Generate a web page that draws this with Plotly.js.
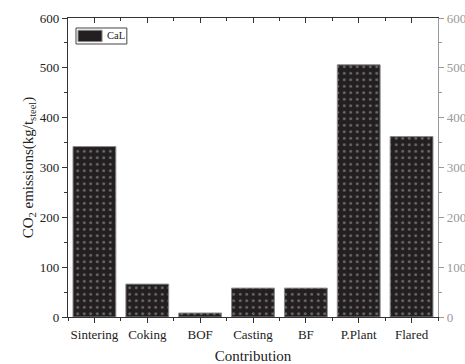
<!DOCTYPE html>
<html><head><meta charset="utf-8">
<script src="https://cdn.plot.ly/plotly-3.0.1.min.js"></script>
<style>html,body{margin:0;padding:0;background:#fff;}#c{width:465px;height:364px;}</style>
</head><body><div id="c"></div>
<script>
const categories = ["Sintering","Coking","BOF","Casting","BF","P.Plant","Flared"];
const emissions = [342, 66, 8, 58, 58, 506, 362];
const seriesName = "CaL";
const yTicks = [0,100,200,300,400,500,600];

const idx = categories.map((c,i)=>i);
const fam = "Liberation Serif, Times New Roman, serif";
const font = {family:fam, color:"#222", size:13};

const bar = {
  type:"bar", x: idx, y: emissions, name: seriesName, width: 0.81,
  marker:{color:"#231f20", line:{color:"#8a8a8a", width:1},
    pattern:{shape:".", fgcolor:"#6a6a6a", bgcolor:"#231f20", size:6.5, solidity:0.16}},
  showlegend:false, hoverinfo:"skip"
};
const ghostRight = {type:"scatter", mode:"markers", x: idx, y: emissions, yaxis:"y2",
  marker:{opacity:0}, showlegend:false, hoverinfo:"skip"};
const ghostTop = {type:"scatter", mode:"markers", x: idx, y: emissions, xaxis:"x2",
  marker:{opacity:0}, showlegend:false, hoverinfo:"skip"};

const xr = [-0.5, categories.length-0.5];
const layout = {
  width:465, height:364, margin:{l:68, r:27, t:18, b:47},
  paper_bgcolor:"#fff", plot_bgcolor:"#fff", font: font,
  showlegend:false,
  shapes:[
    {type:"rect", xref:"paper", yref:"paper", x0:0.0216, x1:0.159, y0:0.913, y1:0.9666,
      line:{color:"#444", width:1}, fillcolor:"#fff"},
    {type:"rect", xref:"paper", yref:"paper", x0:0.027, x1:0.092, y0:0.921, y1:0.959,
      line:{color:"#8a8a8a", width:1}, fillcolor:"#231f20"}
  ],
  annotations:[
    {xref:"paper", yref:"paper", x:0.100, y:0.940, xanchor:"left", yanchor:"middle",
      text: seriesName, showarrow:false, font:{family:fam, size:10.5, color:"#222"}}
  ],
  xaxis:{range:xr, tickmode:"array", tickvals: idx, ticktext: categories,
    showline:true, linecolor:"#333", linewidth:1.2, ticks:"outside", ticklen:5, tickcolor:"#333",
    minor:{tickmode:"linear", tick0:0.5, dtick:1, ticks:"outside", ticklen:3, tickcolor:"#333"},
    showgrid:false, zeroline:false, tickfont:{size:13},
    title:{text:"Contribution", font:{size:15}, standoff:12}},
  xaxis2:{range:xr, overlaying:"x", side:"top", tickmode:"array", tickvals: idx,
    showticklabels:false, showline:true, linecolor:"#333", linewidth:1.2,
    ticks:"inside", ticklen:5, tickcolor:"#333",
    minor:{tickmode:"linear", tick0:0.5, dtick:1, ticks:"inside", ticklen:3, tickcolor:"#333"},
    showgrid:false, zeroline:false},
  yaxis:{range:[0,600], tickmode:"array", tickvals:yTicks, showline:true, linecolor:"#333", linewidth:1.2,
    ticks:"outside", ticklen:5, tickcolor:"#333",
    minor:{dtick:50, ticks:"outside", ticklen:3, tickcolor:"#333"},
    showgrid:false, zeroline:false, tickfont:{size:13},
    title:{text:"CO<sub>2</sub> emissions(kg/t<sub>steel</sub>)", font:{size:15}, standoff:2}},
  yaxis2:{range:[0,600], overlaying:"y", side:"right", tickmode:"array", tickvals:yTicks,
    showline:true, linecolor:"#999", linewidth:1.2, ticks:"outside", ticklen:5, tickcolor:"#999",
    minor:{dtick:50, ticks:"outside", ticklen:3, tickcolor:"#999"},
    showgrid:false, zeroline:false, tickfont:{size:13, color:"#999"}}
};
Plotly.newPlot("c", [bar, ghostRight, ghostTop], layout, {staticPlot:true});
</script></body></html>
